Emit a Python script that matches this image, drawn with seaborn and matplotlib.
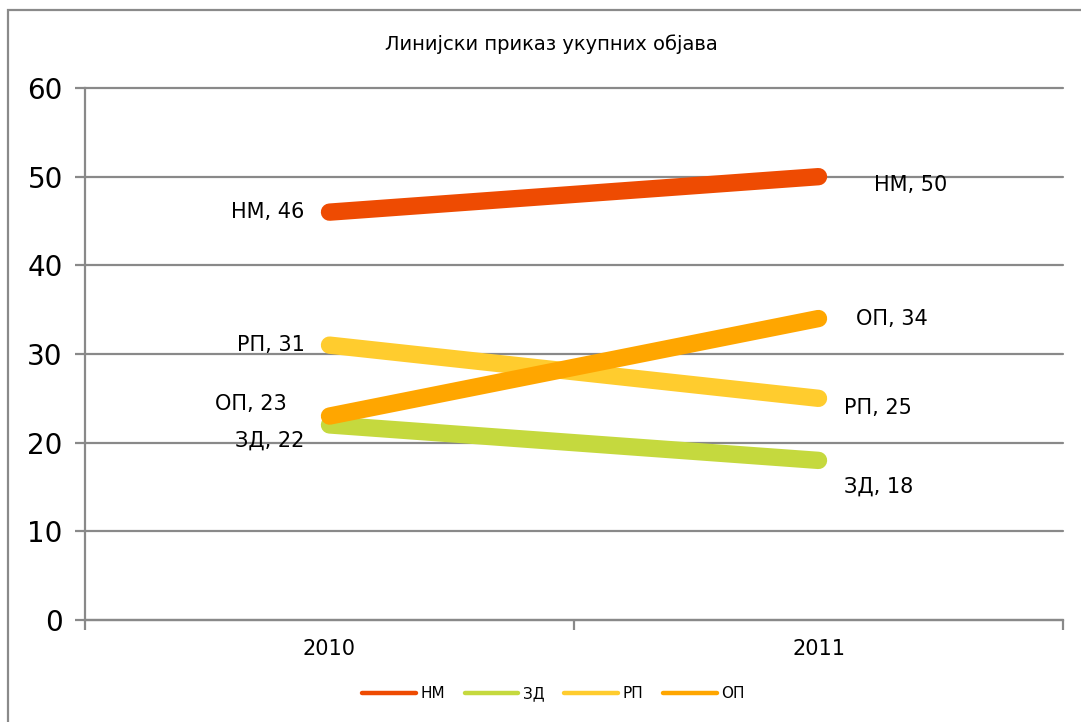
import seaborn as sns
import matplotlib.pyplot as plt
import pandas as pd
from matplotlib.patches import Rectangle
from matplotlib.lines import Line2D

# values
years = ["2010", "2011"]
series_names = ["НМ", "ЗД", "РП", "ОП"]
nm = [46, 50]
zd = [22, 18]
rp = [31, 25]
op = [23, 34]
colors = ["#EE4B02", "#C5D93E", "#FFCC2E", "#FFA600"]

# label offsets (pixels) for the "name, value" data labels
left_offsets = {"НМ": (-25, 0), "ЗД": (-25, -16), "РП": (-25, 0), "ОП": (-43, 12)}
right_offsets = {"НМ": (55, -8), "ЗД": (25, -26), "РП": (25, -10), "ОП": (37, 0)}

df = pd.DataFrame({
    "year": years * 4,
    "x": [0, 1] * 4,
    "value": nm + zd + rp + op,
    "series": [s for s in series_names for _ in years],
})

sns.set_style("white")
plt.rcParams["font.family"] = ["DejaVu Sans"]
plt.rcParams["text.color"] = "black"
plt.rcParams["xtick.labelcolor"] = "black"
plt.rcParams["ytick.labelcolor"] = "black"

fig = plt.figure(figsize=(10.81, 7.22), dpi=100)
ax = fig.add_axes([85 / 1081, 1 - 620 / 722, (1063 - 85) / 1081, (620 - 88) / 722])

sns.lineplot(
    data=df, x="x", y="value", hue="series", hue_order=series_names,
    palette=colors, linewidth=12.5, solid_capstyle="round", legend=False,
    ax=ax, zorder=3,
)

for name, vals in zip(series_names, [nm, zd, rp, op]):
    dx, dy = left_offsets[name]
    ax.annotate(f"{name}, {vals[0]}", (0, vals[0]), xytext=(dx, dy),
                textcoords="offset pixels", ha="right", va="center", fontsize=15)
    dx, dy = right_offsets[name]
    ax.annotate(f"{name}, {vals[1]}", (1, vals[1]), xytext=(dx, dy),
                textcoords="offset pixels", ha="left", va="center", fontsize=15)

grid_c = "#898989"
ax.set_xlim(-0.5, 1.5)
ax.set_ylim(0, 60)
ax.set_yticks(range(0, 61, 10))
ax.set_xticks([0, 1])
ax.set_xticklabels(years)
ax.set_xticks([-0.5, 0.5, 1.5], minor=True)
ax.grid(axis="y", color=grid_c, linewidth=1.6, zorder=0)
for gl in ax.get_ygridlines():
    gl.set_clip_on(False)
ax.set_axisbelow(True)
ax.tick_params(axis="y", which="major", length=7, width=1.6, color=grid_c,
               labelsize=20, pad=9, left=True)
ax.tick_params(axis="x", which="major", length=0, labelsize=15, pad=14)
ax.tick_params(axis="x", which="minor", length=7, width=1.6, color=grid_c,
               bottom=True, direction="out")
for side in ["top", "right"]:
    ax.spines[side].set_visible(False)
for side in ["left", "bottom"]:
    ax.spines[side].set_color(grid_c)
    ax.spines[side].set_linewidth(1.6)
ax.set_xlabel("")
ax.set_ylabel("")

fig.text(0.51, 1 - 44 / 722, "Линијски приказ укупних објава", ha="center",
         va="center", fontsize=14, color="black")

handles = [Line2D([], [], color=c, linewidth=3.2, solid_capstyle="round") for c in colors]
fig.legend(handles, series_names, loc="center", bbox_to_anchor=(0.512, 1 - 694 / 722),
           ncol=4, frameon=False, fontsize=11, handlelength=3.5, handletextpad=0.3,
           columnspacing=1.3)

fig.patches.append(Rectangle((8 / 1081, -0.05), 1.2, 1.05 - 10 / 722,
                             transform=fig.transFigure, fill=False,
                             edgecolor="#8a8a8a", linewidth=1.6))

fig.savefig("out.png", dpi=100)
